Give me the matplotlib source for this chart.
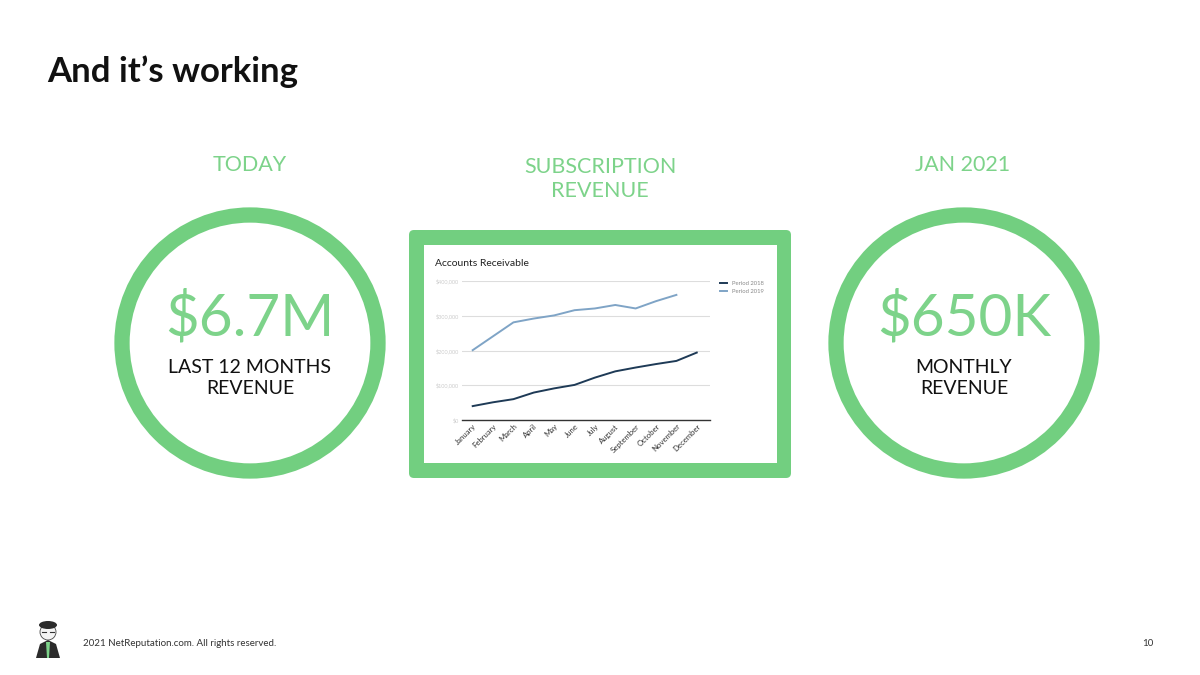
import matplotlib.pyplot as plt
from matplotlib.patches import Circle, FancyBboxPatch, Rectangle, Polygon, Ellipse

# data
months = ["January", "February", "March", "April", "May", "June", "July",
          "August", "September", "October", "November", "December"]
period_2018 = [40000, 51000, 60000, 79000, 91000, 101000, 122000,
               140000, 151000, 161000, 170000, 194000]
period_2019 = [201000, 241000, 281000, 292000, 301000, 316000, 321000,
               331000, 321000, 342000, 360000]
y_ticks = [0, 100000, 200000, 300000, 400000]
y_labels = ["$0", "$100,000", "$200,000", "$300,000", "$400,000"]

GREEN = "#72cf80"
GREEN_TXT = "#7dd38a"
plt.rcParams['font.family'] = ['Lato', 'DejaVu Sans']

W, H = 1200, 675
fig = plt.figure(figsize=(12, 6.75), dpi=100)
bg = fig.add_axes([0, 0, 1, 1])
bg.set_xlim(0, W)
bg.set_ylim(H, 0)
bg.set_aspect('equal')
bg.axis('off')

bg.text(47, 72, "And it\u2019s working", fontsize=25, fontweight='bold',
        color='#111111', va='center', ha='left')

# headings
bg.text(250, 165, "TODAY", fontsize=15.5, color=GREEN_TXT, ha='center', va='center')
bg.text(600, 179, "SUBSCRIPTION\nREVENUE", fontsize=15.5, color=GREEN_TXT,
        ha='center', va='center', linespacing=1.3)
bg.text(963, 165, "JAN 2021", fontsize=15.5, color=GREEN_TXT, ha='center', va='center')

# circles
for cx, big, small in [(250, "$6.7M", "LAST 12 MONTHS\nREVENUE"),
                       (964, "$650K", "MONTHLY\nREVENUE")]:
    bg.add_patch(Circle((cx, 343), 128, fill=False, ec=GREEN, lw=11))
    bg.text(cx, 318, big, fontsize=42, color=GREEN_TXT, fontweight='normal',
            ha='center', va='center')
    bg.text(cx, 378, small, fontsize=14, color='#111111', ha='center',
            va='center', linespacing=1.3)

# chart frame
bg.add_patch(FancyBboxPatch((409, 230), 382, 248,
                            boxstyle="round,pad=0,rounding_size=5",
                            fc=GREEN, ec='none'))
bg.add_patch(Rectangle((424, 245), 353, 218, fc='white', ec='none'))
bg.text(435, 263, "Accounts Receivable", fontsize=7.5, color='#222222',
        ha='left', va='center')

# footer
bg.text(83, 644, "2021 NetReputation.com. All rights reserved.", fontsize=7,
        color='#333333', ha='left', va='center')
bg.text(1142, 644, "10", fontsize=7, color='#333333', ha='left', va='center')

# small logo
bg.add_patch(Polygon([[36, 658], [40, 644], [48, 640], [56, 644], [60, 658]],
                     closed=True, fc='#2b2b2b', ec='none'))
bg.add_patch(Polygon([[46, 642], [50, 642], [49, 658], [47, 658]],
                     closed=True, fc='#7dd38a', ec='none'))
bg.add_patch(Ellipse((48, 632), 16, 16, fc='#f4f4f4', ec='#444444', lw=0.6))
bg.add_patch(Ellipse((48, 625), 18, 8, fc='#2b2b2b', ec='none'))
bg.plot([42, 46], [632, 632], color='#333333', lw=0.8)
bg.plot([50, 54], [632, 632], color='#333333', lw=0.8)

# line chart
ax = fig.add_axes([461.7 / W, 1 - 420 / H, (710 - 461.7) / W, (420 - 281) / H])
ax.plot(range(len(period_2018)), period_2018, color='#1e3a56', lw=1.4,
        label='Period 2018')
ax.plot(range(len(period_2019)), period_2019, color='#7fa4c6', lw=1.4,
        label='Period 2019')
ax.set_xlim(-0.54, 11.65)
ax.set_ylim(0, 400000)
ax.set_yticks(y_ticks)
ax.set_yticklabels(y_labels, fontsize=4, color='#cccccc')
ax.set_xticks(range(len(months)))
ax.set_xticklabels(months, rotation=45, ha='right', fontsize=5.6,
                   color='#333333', rotation_mode='anchor')
ax.tick_params(length=0, pad=2)
ax.grid(axis='y', color='#dddddd', lw=0.8)
for s in ['top', 'right', 'left']:
    ax.spines[s].set_visible(False)
ax.spines['bottom'].set_color('#333333')
ax.spines['bottom'].set_linewidth(1)
ax.set_facecolor('none')
ax.legend(loc='upper left', bbox_to_anchor=(1.02, 1.04), frameon=False,
          fontsize=4.2, handlelength=1.2, labelcolor='#888888')

fig.savefig("out.png", dpi=100)
